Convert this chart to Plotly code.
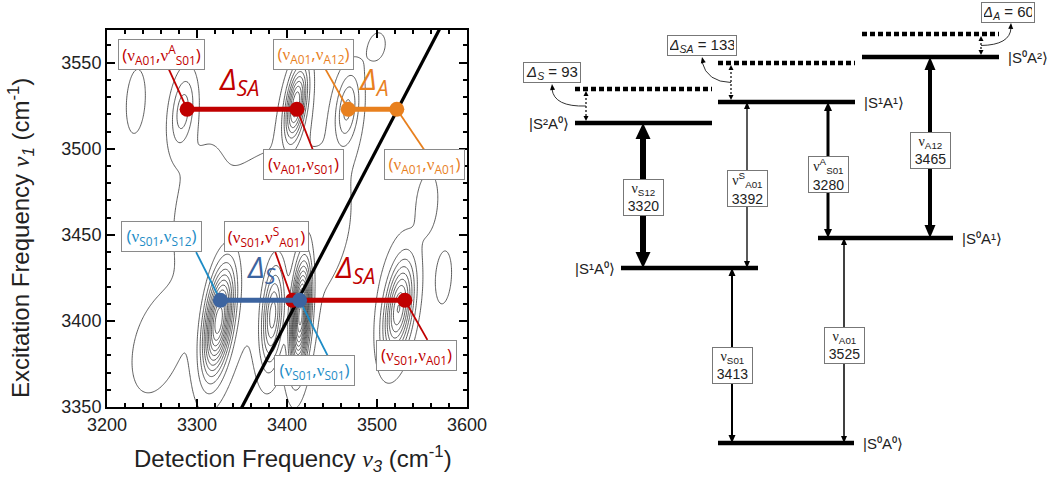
import numpy as np
import plotly.graph_objects as go

W, H = 1050, 478

# ---------------- Left panel: 2D IR spectrum ----------------
x_axis_range = [3200, 3600]
y_axis_range = [3350, 3569]

# contour peaks: detection centre, excitation centre, widths, amplitude, tilt
peak_det = [3324, 3384, 3415, 3524, 3410, 3284, 3467, 3380, 3232, 3556, 3574, 3250, 3440, 3300, 3500]
peak_exc = [3400, 3403, 3403, 3407, 3526, 3522, 3523, 3445, 3528, 3468, 3425, 3380, 3470, 3480, 3560]
peak_wdet = [11, 8, 7, 11, 8, 9, 9, 95, 8, 8, 7, 22, 12, 20, 12]
peak_wexc = [20, 18, 20, 18, 14, 14, 14, 60, 14, 12, 12, 22, 14, 25, 10]
peak_amp = [1.0, 0.55, 1.15, 0.72, 0.7, 0.26, 0.3, 0.07, 0.1, 0.1, 0.09, 0.05, 0.05, 0.03, 0.05]
peak_tilt = [0.45, 0.3, 0.35, 0.4, 0.45, 0.3, 0.3, 0.3, 0.2, 0.2, 0.2, 0.3, 0.3, 0.5, 0.2]

diag_vals = [3300, 3600]

exc_A01 = 3523
exc_S01 = 3412
red_top_det = [3289, 3411]
orange_det = [3468, 3522]
blue_det = [3326, 3414]
red_bot_det = [3406, 3531]

RED = "#c00000"
ORANGE = "#e8801e"
BLUE = "#3c64a0"
LBLUE = "#1d8cc6"

NU = '<span style="font-family:Liberation Serif">ν</span>'

label_text = [
    f"({NU}<sub>A01</sub>,{NU}<sup>A</sup><sub>S01</sub>)",
    f"({NU}<sub>A01</sub>,{NU}<sub>A12</sub>)",
    f"({NU}<sub>A01</sub>,{NU}<sub>S01</sub>)",
    f"({NU}<sub>A01</sub>,{NU}<sub>A01</sub>)",
    f"({NU}<sub>S01</sub>,{NU}<sub>S12</sub>)",
    f"({NU}<sub>S01</sub>,{NU}<sup>S</sup><sub>A01</sub>)",
    f"({NU}<sub>S01</sub>,{NU}<sub>S01</sub>)",
    f"({NU}<sub>S01</sub>,{NU}<sub>A01</sub>)",
]
label_color = [RED, ORANGE, RED, ORANGE, LBLUE, RED, LBLUE, RED]
label_x = [3261, 3429, 3418, 3553, 3260, 3377, 3430, 3544]
label_y = [3555, 3555, 3491, 3491, 3449, 3449, 3371, 3380]
label_w = [81, 75, 75, 75, 75, 79, 75, 75]
leader_x0 = [3268, 3443, 3429, 3553, 3299, 3387, 3446, 3556]
leader_y0 = [3547, 3546, 3499, 3499, 3440, 3440, 3379, 3389]
leader_x1 = [red_top_det[0], orange_det[0], red_top_det[1], orange_det[1],
             blue_det[0], red_bot_det[0], blue_det[1], red_bot_det[1]]
leader_y1 = [exc_A01, exc_A01, exc_A01, exc_A01, exc_S01, exc_S01, exc_S01, exc_S01]

delta_text = ["<i>Δ<sub>SA</sub></i>", "<i>Δ<sub>A</sub></i>", "<i>Δ<sub>S</sub></i>", "<i>Δ<sub>SA</sub></i>"]
delta_color = [RED, ORANGE, BLUE, RED]
delta_x = [3322, 3478, 3353, 3451]
delta_y = [3540, 3540, 3431, 3431]

# ---------------- Right panel: energy level diagram (schematic) ----------------
level_names = ["|S⁰A⁰⟩", "|S¹A⁰⟩", "|S⁰A¹⟩", "|S²A⁰⟩", "|S¹A¹⟩", "|S⁰A²⟩"]
level_pos = [443, 268, 238, 123, 102, 57]          # schematic heights (screen-down)
level_x0 = [718, 621, 818, 575, 718, 862]
level_x1 = [854, 758, 953, 712, 855, 999]
level_label_side = ["right", "left", "right", "left", "right", "right"]

harm_level = [3, 4, 5]
harm_pos = [89, 63, 34]
delta_names = ["S", "SA", "A"]
delta_values = [93, 133, 60]
harm_arrow_x = [586, 731, 981]
dbox_x = [552, 702, 1008]
dbox_y = [72, 45, 12]
dbox_w = [52, 64, 48]
curve_end = [(552, 86), (702, 59), (1011, 25)]
curve_ctrl = [(554, 107), (707, 82), (1010, 45)]

trans_sym = [f"{NU}<sub>S12</sub>", f"{NU}<sup>S</sup><sub>A01</sub>", f"{NU}<sup>A</sup><sub>S01</sub>",
             f"{NU}<sub>A12</sub>", f"{NU}<sub>S01</sub>", f"{NU}<sub>A01</sub>"]
trans_value = [3320, 3392, 3280, 3465, 3413, 3525]
trans_lower = [1, 1, 2, 2, 0, 0]
trans_upper = [3, 4, 4, 5, 1, 2]
trans_x = [643, 747, 828, 930, 732, 844]
trans_box_y = [197, 188, 174, 150, 365, 345]
trans_lw = [6, 1.3, 3, 4, 2, 1.5]
trans_head_w = [15, 6, 8, 11, 7, 6]
trans_head_h = [16, 7, 9, 13, 8, 7]


def px(P):
    return P / W


def py(P):
    return 1 - P / H


fig = go.Figure()

# contour
gx = np.linspace(3200, 3600, 321)
gy = np.linspace(3350, 3570, 221)
X, Y = np.meshgrid(gx, gy)
Z = np.zeros_like(X)
for x0, y0, sx, sy, a, r in zip(peak_det, peak_exc, peak_wdet, peak_wexc, peak_amp, peak_tilt):
    u = (X - x0) / sx
    v = (Y - y0) / sy
    Z += a * np.exp(-(u * u - 2 * r * u * v + v * v) / (2 * (1 - r * r)))
fig.add_trace(go.Contour(x=gx, y=gy, z=Z, showscale=False, hoverinfo="skip",
                         contours=dict(coloring="none", start=0.045, end=1.6, size=0.085),
                         line=dict(color="#333333", width=0.8)))

# diagonal
fig.add_trace(go.Scatter(x=diag_vals, y=diag_vals, mode="lines",
                         line=dict(color="black", width=3.2), hoverinfo="skip"))

# leader lines
for i in range(len(label_text)):
    fig.add_trace(go.Scatter(x=[leader_x0[i], leader_x1[i]], y=[leader_y0[i], leader_y1[i]],
                             mode="lines", line=dict(color=label_color[i], width=1.8), hoverinfo="skip"))

# connectors
for xs, yv, col in [(red_top_det, exc_A01, RED), (orange_det, exc_A01, ORANGE),
                    (red_bot_det, exc_S01, RED), (blue_det, exc_S01, BLUE)]:
    fig.add_trace(go.Scatter(x=xs, y=[yv, yv], mode="lines+markers",
                             line=dict(color=col, width=5), marker=dict(color=col, size=15),
                             hoverinfo="skip"))

ann = []
for i in range(len(label_text)):
    ann.append(dict(x=label_x[i], y=label_y[i], xref="x", yref="y", text=label_text[i],
                    showarrow=False, font=dict(family="Open Sans", size=17, color=label_color[i]),
                    bgcolor="white", bordercolor="#8a8a8a", borderwidth=1, borderpad=2,
                    width=label_w[i], height=25, align="center", valign="middle",
                    xanchor="center", yanchor="middle"))
for i in range(len(delta_text)):
    ann.append(dict(x=delta_x[i], y=delta_y[i], xref="x", yref="y", text=delta_text[i],
                    showarrow=False, xanchor="left", yanchor="middle",
                    font=dict(family="Open Sans", size=30, color=delta_color[i])))

# axis titles
ann.append(dict(x=px(293), y=py(459), xref="paper", yref="paper", showarrow=False,
                xanchor="center", yanchor="middle",
                text='Detection Frequency <span style="font-family:Liberation Serif"><i>ν</i></span><sub><i>3</i></sub> (cm<sup>-1</sup>)',
                font=dict(family="Liberation Sans", size=24, color="#222")))
ann.append(dict(x=px(21), y=py(238), xref="paper", yref="paper", showarrow=False, textangle=-90,
                xanchor="center", yanchor="middle",
                text='Excitation Frequency <span style="font-family:Liberation Serif"><i>ν</i></span><sub><i>1</i></sub> (cm<sup>-1</sup>)',
                font=dict(family="Liberation Sans", size=24, color="#222")))

# ---------------- Right panel drawing ----------------
shapes = []


def tri(ax, ay, dx, dy, w, h):
    n = (dx * dx + dy * dy) ** 0.5
    dx, dy = dx / n, dy / n
    bx, by = ax - h * dx, ay - h * dy
    qx, qy = -dy, dx
    return dict(type="path", xref="x2", yref="y2", fillcolor="black", line=dict(width=0),
                path=f"M {ax},{ay} L {bx + qx * w / 2},{by + qy * w / 2} L {bx - qx * w / 2},{by - qy * w / 2} Z")


for i, nm in enumerate(level_names):
    shapes.append(dict(type="line", xref="x2", yref="y2", x0=level_x0[i], x1=level_x1[i],
                       y0=level_pos[i], y1=level_pos[i], line=dict(color="black", width=4.5)))
    if level_label_side[i] == "right":
        ann.append(dict(x=level_x1[i] + 7, y=level_pos[i], xref="x2", yref="y2", text=nm, showarrow=False,
                        xanchor="left", yanchor="middle", font=dict(family="Liberation Sans", size=15, color="#222")))
    else:
        ann.append(dict(x=level_x0[i] - 4, y=level_pos[i], xref="x2", yref="y2", text=nm, showarrow=False,
                        xanchor="right", yanchor="middle", font=dict(family="Liberation Sans", size=15, color="#222")))

for k, li in enumerate(harm_level):
    yh, yl, xa = harm_pos[k], level_pos[li], harm_arrow_x[k]
    shapes.append(dict(type="line", xref="x2", yref="y2", x0=level_x0[li], x1=level_x1[li],
                       y0=yh, y1=yh, line=dict(color="black", width=4.5, dash="5px,3px")))
    shapes.append(dict(type="line", xref="x2", yref="y2", x0=xa, x1=xa, y0=yh + 5, y1=yl - 5,
                       line=dict(color="black", width=1.2, dash="2px,2px")))
    shapes.append(tri(xa, yh + 2, 0, -1, 5, 5))
    shapes.append(tri(xa, yl - 2, 0, 1, 5, 5))
    sx, sy = xa, (yh + yl) / 2
    cx, cy = curve_ctrl[k]
    ex, ey = curve_end[k]
    shapes.append(dict(type="path", xref="x2", yref="y2", line=dict(color="#333", width=1),
                       path=f"M {sx},{sy} Q {cx},{cy} {ex},{ey + 3}"))
    shapes.append(tri(ex, ey - 2, ex - cx, ey - cy, 5, 6))
    ann.append(dict(x=dbox_x[k], y=dbox_y[k], xref="x2", yref="y2", showarrow=False,
                    xanchor="center", yanchor="middle",
                    text=f"<i>Δ<sub>{delta_names[k]}</sub></i> = {delta_values[k]}",
                    font=dict(family="Liberation Sans", size=15, color="#222"),
                    bgcolor="white", bordercolor="#777", borderwidth=1, borderpad=2,
                    width=dbox_w[k], height=15))

for i in range(len(trans_sym)):
    x = trans_x[i]
    yu = level_pos[trans_upper[i]]
    yl = level_pos[trans_lower[i]]
    hw, hh = trans_head_w[i], trans_head_h[i]
    shapes.append(dict(type="line", xref="x2", yref="y2", x0=x, x1=x, y0=yu + hh - 1, y1=yl - hh + 1,
                       line=dict(color="black", width=trans_lw[i])))
    shapes.append(tri(x, yu, 0, -1, hw, hh))
    shapes.append(tri(x, yl, 0, 1, hw, hh))
    ann.append(dict(x=x, y=trans_box_y[i], xref="x2", yref="y2", showarrow=False,
                    xanchor="center", yanchor="middle",
                    text=f"{trans_sym[i]}<br>{trans_value[i]}",
                    font=dict(family="Liberation Sans", size=14, color="#222"),
                    bgcolor="white", bordercolor="#777", borderwidth=1, borderpad=1,
                    width=37, height=33))

axis_common = dict(showline=True, linewidth=2, linecolor="black", mirror="allticks",
                   ticks="inside", ticklen=8, tickwidth=1.5, tickcolor="black",
                   showgrid=False, zeroline=False, automargin=False,
                   tickfont=dict(family="Liberation Sans", size=18, color="#222"))

fig.update_layout(
    width=W, height=H, margin=dict(l=0, r=0, t=0, b=0, autoexpand=False),
    paper_bgcolor="white", plot_bgcolor="white", showlegend=False,
    xaxis=dict(domain=[px(107), px(467)], range=x_axis_range, tick0=3200, dtick=100, anchor="y",
               minor=dict(dtick=20, ticks="inside", ticklen=4, tickcolor="black", showgrid=False),
               **axis_common),
    yaxis=dict(domain=[py(407), py(30)], range=y_axis_range, tick0=3350, dtick=50, anchor="x",
               minor=dict(dtick=10, ticks="inside", ticklen=4, tickcolor="black", showgrid=False),
               **axis_common),
    xaxis2=dict(domain=[px(500), 1], range=[500, W], visible=False, anchor="y2", automargin=False),
    yaxis2=dict(domain=[0, 1], range=[H, 0], visible=False, anchor="x2", automargin=False),
    shapes=shapes, annotations=ann,
)

fig.write_html("out.html", config={"displayModeBar": False},
               post_script="document.body.style.margin='0';document.body.style.overflow='hidden';")
